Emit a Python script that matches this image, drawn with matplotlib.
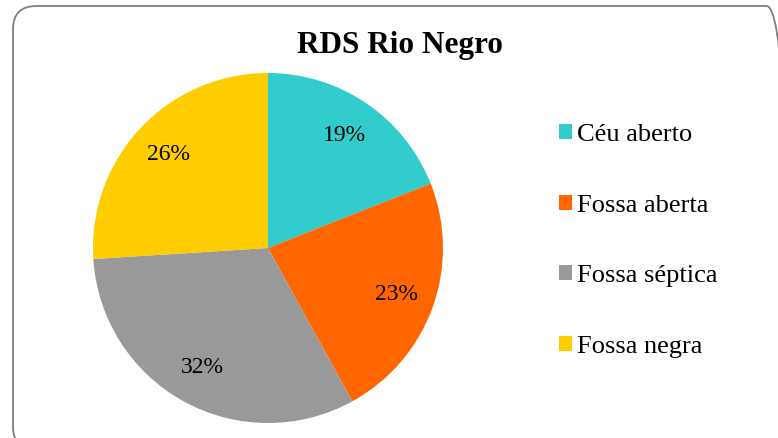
import matplotlib.pyplot as plt
from matplotlib.patches import FancyBboxPatch, Rectangle

categorias = ["Céu aberto", "Fossa aberta", "Fossa séptica", "Fossa negra"]
percentuais = [19, 23, 32, 26]
cores = ["#33CCCC", "#FF6600", "#999999", "#FFCC00"]
titulo = "RDS Rio Negro"

plt.rcParams['font.family'] = ['Liberation Serif', 'DejaVu Serif']

W, H = 778, 438
fig = plt.figure(figsize=(W / 100, H / 100), dpi=100)

# moldura arredondada do gráfico
moldura = FancyBboxPatch((13 / W, (H - 450) / H), 777 / W, 444 / H,
                         boxstyle="round,pad=0,rounding_size=0.03",
                         transform=fig.transFigure, facecolor="none",
                         edgecolor="#808080", linewidth=1.3,
                         mutation_aspect=W / H, zorder=5)
fig.patches.append(moldura)

ax = fig.add_axes([93 / W, (H - 423) / H, 350 / W, 350 / H])
fatias, _, textos = ax.pie(percentuais, colors=cores, startangle=90,
                           counterclock=False, autopct='%.0f%%',
                           pctdistance=0.78,
                           wedgeprops=dict(linewidth=0))
for t in textos:
    t.set_fontsize(17)
ax.set_xlim(-1, 1)
ax.set_ylim(-1, 1)
ax.set_aspect('equal')

fig.text(400 / W, 1 - 53 / H, titulo, ha='center', va='baseline',
         fontsize=22.5, fontweight='bold')

marcas = [Rectangle((0, 0), 1, 1, facecolor=c, edgecolor='none') for c in cores]
fig.legend(marcas, categorias, loc='center left',
           bbox_to_anchor=(559 / W, 1 - 241 / H), frameon=False,
           fontsize=19, handlelength=0.5, handleheight=0.5,
           handletextpad=0.2, labelspacing=1.84, borderpad=0,
           borderaxespad=0)

fig.savefig("out.png", dpi=100)
